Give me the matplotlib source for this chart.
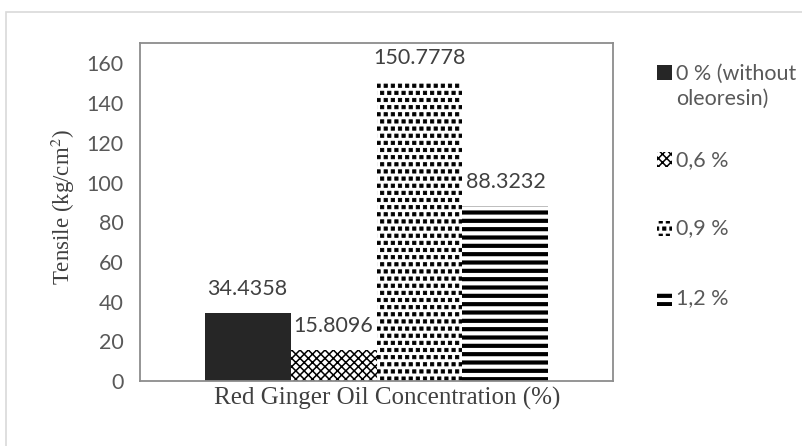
import numpy as np
import matplotlib
matplotlib.use("Agg")
import matplotlib.pyplot as plt
from matplotlib import hatch as mhatch
from matplotlib.path import Path
from matplotlib.patches import Rectangle

plt.rcParams["mathtext.fontset"] = "stix"

# tensile strength for each oil concentration
labels = ["0 % (without\noleoresin)", "0,6 %", "0,9 %", "1,2 %"]
tensile = [34.4358, 15.8096, 150.7778, 88.3232]
value_text = ["34.4358", "15.8096", "150.7778", "88.3232"]
yticks = [0, 20, 40, 60, 80, 100, 120, 140, 160]


class SquareDots(mhatch.Shapes):
    """staggered filled squares, hatch char 's'"""
    size = 0.46
    filled = True

    def __init__(self, hatch, density):
        self.num_rows = hatch.count("s") * 14
        self.shape_vertices = np.array([[-0.5, -0.5], [0.5, -0.5], [0.5, 0.5], [-0.5, 0.5], [-0.5, -0.5]])
        self.shape_codes = np.array([Path.MOVETO, Path.LINETO, Path.LINETO, Path.LINETO, Path.CLOSEPOLY])
        super().__init__(hatch, density)


mhatch._hatch_types.append(SquareDots)

hatches = ["", "xxxx", "s", "--"]
faces = ["#262626", "white", "white", "white"]
hatch_lw = [1.0, 1.1, 0.6, 3.0]

W, H = 803, 446
fig = plt.figure(figsize=(W / 100, H / 100), dpi=100)
ax = fig.add_axes([140 / W, 1 - 381 / H, 473 / W, 338 / H])

# light frame around the chart area
fig.patches.append(Rectangle((6 / W, -0.05), 1.1, (H - 12) / H + 0.05, transform=fig.transFigure,
                             fill=False, edgecolor="#d9d9d9", linewidth=1.2))

width = 0.1818
xs = [-1.5 * width, -0.5 * width, 0.5 * width, 1.5 * width]
for i in range(4):
    with plt.rc_context({"hatch.linewidth": hatch_lw[i], "hatch.color": "black"}):
        ax.bar(xs[i], tensile[i], width=width, color=faces[i], hatch=hatches[i],
               edgecolor="black", linewidth=0)
    ax.annotate(value_text[i], (xs[i], tensile[i]), xytext=(0, 10), textcoords="offset points",
                ha="center", va="bottom", fontsize=15.5, color="#404040", family="Lato")

ax.set_xlim(-0.5, 0.5)
ax.set_ylim(0, 170.3)
ax.set_yticks(yticks)
ax.set_yticklabels([str(t) for t in yticks], family="Lato", fontsize=15.5, color="#595959")
ax.set_xticks([])
ax.tick_params(axis="y", length=0, pad=12)
for s in ax.spines.values():
    s.set_color("#8c8c8c")
    s.set_linewidth(1.3)

fig.text(63 / W, 1 - 207 / H, "Tensile (kg/cm$^2$)", rotation=90, ha="center", va="center",
         family="Liberation Serif", fontsize=16.5, color="#404040")
fig.text(387 / W, 1 - 405 / H, "Red Ginger Oil Concentration (%)", ha="center", va="baseline",
         family="Liberation Serif", fontsize=18, color="#404040")

# legend, one marker per series
leg_y = [72, 160, 228, 298]
for i in range(4):
    y = 1 - leg_y[i] / H
    with plt.rc_context({"hatch.linewidth": hatch_lw[i], "hatch.color": "black"}):
        fig.patches.append(Rectangle((657 / W, y - 7.5 / H), 15 / W, 15 / H, transform=fig.transFigure,
                                     facecolor=faces[i], hatch=hatches[i], edgecolor="black", linewidth=0))
    nl = labels[i].count("\n")
    fig.text(676 / W, y - nl * 14 / H, labels[i], ha="left", va="center",
             family="Lato", fontsize=15.5, color="#595959", linespacing=1.3)

fig.savefig("out.png", dpi=100, facecolor="white")
